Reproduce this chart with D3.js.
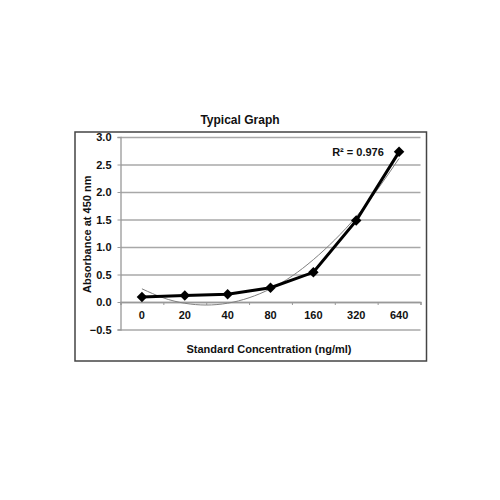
<!DOCTYPE html>
<html>
<head>
<meta charset="utf-8">
<script src="https://cdn.jsdelivr.net/npm/d3@7"></script>
<style>
  body { margin: 0; background: #fff; }
  text { font-family: Arial, "Liberation Sans", sans-serif; font-weight: bold; fill: #111; }
</style>
</head>
<body>
<div id="chart"></div>
<script>
// values
var concentrations = ['0', '20', '40', '80', '160', '320', '640'];
var absorbance = [0.09, 0.12, 0.14, 0.26, 0.54, 1.48, 2.73];
// thin grey trend line, read at half category steps
var trendPos = [0, 0.5, 1, 1.5, 2, 2.5, 3, 3.5, 4, 4.5, 5, 5.5, 6];
var trendVals = [0.24, 0.075, -0.023, -0.055, -0.022, 0.077, 0.24, 0.47, 0.77, 1.13, 1.55, 2.05, 2.61];
var yTicks = [-0.5, 0, 0.5, 1, 1.5, 2, 2.5, 3];

var width = 500, height = 500;
var svg = d3.select('#chart').append('svg')
    .attr('width', width)
    .attr('height', height);

// outer frame
svg.append('rect')
    .attr('x', 75).attr('y', 132)
    .attr('width', 351.5).attr('height', 229)
    .attr('fill', 'none')
    .attr('stroke', '#444')
    .attr('stroke-width', 1.5);

var plotL = 120.5, plotR = 420.5, plotT = 137, plotB = 329.5;

var x = d3.scaleBand().domain(concentrations).range([plotL, plotR]);
var xi = d3.scaleLinear().domain([-0.5, 6.5]).range([plotL, plotR]);
var y = d3.scaleLinear().domain([-0.5, 3]).range([plotB, plotT]);

// gridlines
svg.append('g')
    .attr('transform', `translate(${plotL},0)`)
    .call(d3.axisLeft(y).tickValues(yTicks).tickSize(-(plotR - plotL)).tickFormat(''))
    .call(g => g.select('.domain').remove())
    .selectAll('line')
    .attr('stroke', '#a8a8a8')
    .attr('stroke-width', 1.3);

// y axis
var yAxis = svg.append('g')
    .attr('transform', `translate(${plotL},0)`)
    .call(d3.axisLeft(y).tickValues(yTicks).tickSize(3).tickPadding(6).tickFormat(d3.format('.1f')));
yAxis.select('.domain').attr('stroke', '#999').attr('stroke-width', 1.3);
yAxis.selectAll('line').attr('stroke', '#999');
yAxis.selectAll('text').style('font-size', '11px').style('font-family', 'Arial, "Liberation Sans", sans-serif').attr('font-weight', 'bold').attr('fill', '#111');

// x axis at zero
var xAxis = svg.append('g')
    .attr('transform', `translate(0,${y(0)})`)
    .call(d3.axisBottom(xi).tickValues(d3.range(-0.5, 7, 1)).tickSize(3).tickFormat(''));
xAxis.select('.domain').attr('stroke', '#999').attr('stroke-width', 1.3);
xAxis.selectAll('line').attr('stroke', '#999');

svg.append('g').selectAll('text')
    .data(concentrations)
    .join('text')
    .attr('x', d => x(d) + x.bandwidth() / 2)
    .attr('y', y(0) + 17)
    .attr('text-anchor', 'middle')
    .style('font-size', '11px')
    .text(d => d);

// trend line
svg.append('path')
    .datum(trendPos.map((p, i) => [p, trendVals[i]]))
    .attr('fill', 'none')
    .attr('stroke', '#808080')
    .attr('stroke-width', 1)
    .attr('d', d3.line().curve(d3.curveNatural).x(d => xi(d[0])).y(d => y(d[1])));

// data line
svg.append('path')
    .datum(absorbance)
    .attr('fill', 'none')
    .attr('stroke', '#000')
    .attr('stroke-width', 3)
    .attr('d', d3.line().x((d, i) => x(concentrations[i]) + x.bandwidth() / 2).y(d => y(d)));

svg.append('g').selectAll('path')
    .data(absorbance)
    .join('path')
    .attr('transform', (d, i) => `translate(${x(concentrations[i]) + x.bandwidth() / 2},${y(d)})`)
    .attr('d', d3.symbol().type(d3.symbolDiamond2).size(70))
    .attr('fill', '#000');

// texts
svg.append('text')
    .attr('x', 240).attr('y', 124)
    .attr('text-anchor', 'middle')
    .style('font-size', '12px')
    .text('Typical Graph');

svg.append('text')
    .attr('x', 358).attr('y', 156)
    .attr('text-anchor', 'middle')
    .style('font-size', '11px')
    .text('R² = 0.976');

svg.append('text')
    .attr('transform', `translate(90.5,${(plotT + plotB) / 2 + 1})rotate(-90)`)
    .attr('text-anchor', 'middle')
    .style('font-size', '11px')
    .text('Absorbance at 450 nm');

svg.append('text')
    .attr('x', 269).attr('y', 353)
    .attr('text-anchor', 'middle')
    .style('font-size', '11px')
    .text('Standard Concentration  (ng/ml)');
</script>
</body>
</html>
